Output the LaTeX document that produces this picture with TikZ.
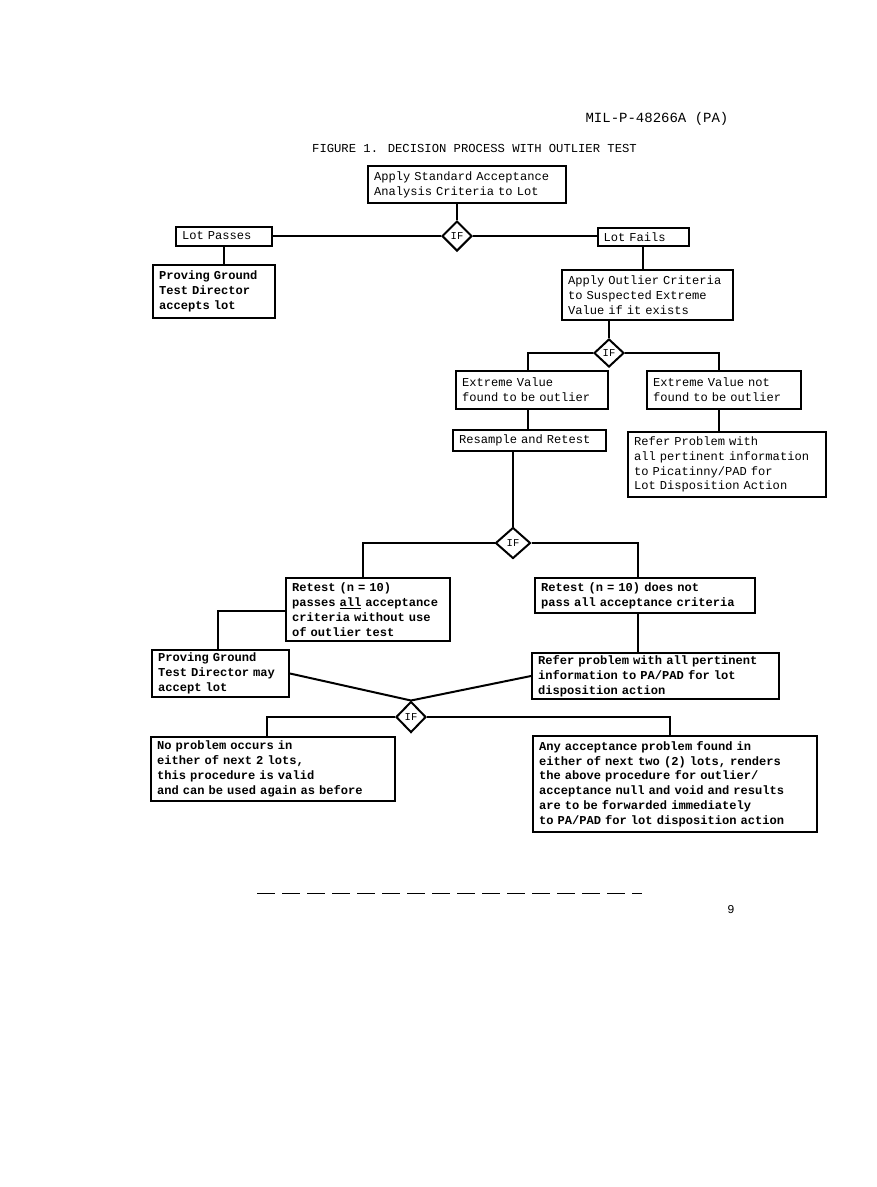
\documentclass[tikz,border=0pt]{standalone}
\usepackage{fontspec}
\setmainfont{Liberation Mono}
\usetikzlibrary{shapes.geometric}

% typewriter size
\newcommand{\tw}[1]{\fontsize{#1}{14.8}\selectfont}

\begin{document}
\begin{tikzpicture}[x=1pt,y=-1pt,
    blk/.style={draw, line width=2pt, align=left, inner xsep=6pt, inner ysep=2pt,
        font=\tw{12.1}},
    heavy/.style={blk, font=\tw{12.1}\bfseries},
    ifbox/.style={draw, diamond, line width=2pt, inner sep=0pt, aspect=1,
        font=\fontsize{10.5}{12}\selectfont},
    wire/.style={line width=2pt}]
    \def\pw{877}
    \def\ph{1187}

    \useasboundingbox (0,0) rectangle (\pw,\ph);

% --------------------
% Page header and title
% --------------------
\node[font=\tw{14}] (hdr) at (657,119) {MIL-P-48266A (PA)};
\node[font=\tw{12.2}] (ttl) at (474.5,148) {FIGURE 1. DECISION PROCESS WITH OUTLIER TEST};

% --------------------
% Boxes
% --------------------
\node[blk, text width=186pt, minimum height=37pt] (std) at (467,184.5)
    {Apply Standard Acceptance\\Analysis Criteria to Lot};
\node[blk, text width=84pt, minimum height=19pt] (pass) at (224,236) {Lot Passes};
\node[blk, text width=79pt, minimum height=18pt] (fail) at (643,237) {Lot Fails};
\node[heavy, text width=110pt, minimum height=53pt] (pgacc) at (214,291.5)
    {Proving Ground\\Test Director\\accepts lot};
\node[blk, text width=159pt, minimum height=50pt] (outl) at (647.5,295)
    {Apply Outlier Criteria\\to Suspected Extreme\\Value if it exists};
\node[blk, text width=140pt, minimum height=38pt] (exyes) at (532,390)
    {Extreme Value\\found to be outlier};
\node[blk, text width=142pt, minimum height=38pt] (exno) at (724,390)
    {Extreme Value not\\found to be outlier};
\node[blk, text width=141pt, minimum height=21pt] (resamp) at (529.5,440.5)
    {Resample and Retest};
\node[blk, text width=186pt, minimum height=65pt] (refer1) at (727,464.5)
    {Refer Problem with\\all pertinent information\\to Picatinny/PAD for\\Lot Disposition Action};
\node[heavy, text width=152pt, minimum height=63pt] (rtpass) at (368,609.5)
    {Retest (n = 10)\\passes \underline{all} acceptance\\criteria without use\\of outlier test};
\node[heavy, text width=208pt, minimum height=35pt] (rtfail) at (645,595.5)
    {Retest (n = 10) does not\\pass all acceptance criteria};
\node[heavy, text width=125pt, minimum height=47pt] (pgmay) at (220.5,673.5)
    {Proving Ground\\Test Director may\\accept lot};
\node[heavy, text width=235pt, minimum height=42pt] (refer2) at (655.5,676)
    {Refer problem with all pertinent\\information to PA/PAD for lot\\disposition action};
\node[heavy, text width=232pt, minimum height=64pt] (noprob) at (273,769)
    {No problem occurs in\\either of next 2 lots,\\this procedure is valid\\and can be used again as before};
\node[heavy, text width=272pt, minimum height=96pt] (anyprob) at (675,784)
    {Any acceptance problem found in\\either of next two (2) lots, renders\\the above procedure for outlier/\\acceptance null and void and results\\are to be forwarded immediately\\to PA/PAD for lot disposition action};

% --------------------
% Decisions
% --------------------
\node[ifbox, minimum width=30pt, minimum height=30pt] (if1) at (457,236) {IF};
\node[ifbox, minimum width=30pt, minimum height=28pt] (if2) at (609,353) {IF};
\node[ifbox, minimum width=35pt, minimum height=31pt] (if3) at (513,543) {IF};
\node[ifbox, minimum width=30pt, minimum height=31pt] (if4) at (411,717) {IF};

% --------------------
% Connectors
% --------------------
\draw[wire] (if1.north) -- (if1.north |- std.south);
\draw[wire] (pass.east) -- (if1.west);
\draw[wire] (if1.east) -- (if1.east -| fail.west);
\draw[wire] (pass.south) -- (pass.south |- pgacc.north);
\draw[wire] (fail.south) -- (fail.south |- outl.north);

\draw[wire] (if2.north) -- (if2.north |- outl.south);
\draw[wire] (if2.west) -| ([xshift=-4pt]exyes.north);
\draw[wire] (if2.east) -| ([xshift=-5pt]exno.north);
\draw[wire] ([xshift=-4pt]exyes.south) -- ([xshift=-4pt]exyes.south |- resamp.north);
\draw[wire] ([xshift=-5pt]exno.south) -- ([xshift=-5pt]exno.south |- refer1.north);

\draw[wire] (if3.north) -- (if3.north |- resamp.south);
\draw[wire] (if3.west) -| ([xshift=-5pt]rtpass.north);
\draw[wire] (if3.east) -| ([xshift=-7pt]rtfail.north);
\draw[wire] ([yshift=-1.5pt]rtpass.west) -| ([xshift=-2.5pt]pgmay.north);
\draw[wire] ([xshift=-7pt]rtfail.south) -- ([xshift=-7pt]rtfail.south |- refer2.north);

\draw[wire] (pgmay.east) -- (if4.north);
\draw[wire] (refer2.west) -- (if4.north);
\draw[wire] (if4.west) -| ([xshift=-6pt]noprob.north);
\draw[wire] (if4.east) -| ([xshift=-5pt]anyprob.north);

% --------------------
% Foot of page
% --------------------
\draw[line width=0.8pt, dash pattern=on 18pt off 7pt] (257,893) -- (642,893);
\node[font=\tw{12}] (pgno) at (731,910) {9};

\end{tikzpicture}
\end{document}
